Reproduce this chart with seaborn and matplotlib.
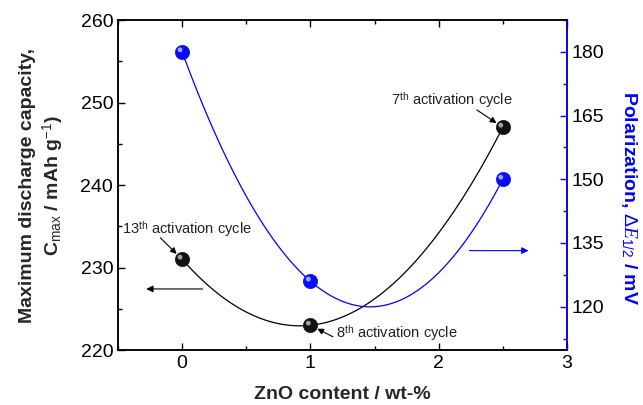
import matplotlib
matplotlib.use("Agg")
import matplotlib.pyplot as plt
import matplotlib.transforms as mtransforms
from matplotlib.ticker import MultipleLocator
import seaborn as sns
import pandas as pd

# ---- data ----
zno_content = [0, 1, 2.5]
capacity = [231, 223, 247]          # mAh/g (left axis)
polarization = [180, 126, 150]      # mV (right axis)
cycle_labels = ["13", "8", "7"]

sns.set_style("ticks")
plt.rcParams["font.family"] = ["Liberation Sans", "DejaVu Sans"]
plt.rcParams["mathtext.fontset"] = "custom"
plt.rcParams["mathtext.rm"] = "Liberation Sans"
plt.rcParams["mathtext.it"] = "Liberation Serif:italic"
plt.rcParams["mathtext.bf"] = "Liberation Sans:bold"

df = pd.DataFrame({"x": zno_content, "cap": capacity, "pol": polarization})

fig = plt.figure(figsize=(6.43, 4.05), dpi=100)
ax = fig.add_axes([0.1835, 0.1358, 0.6983, 0.8148])
ax2 = ax.twinx()

# fitted curves (quadratic)
sns.regplot(data=df, x="x", y="cap", order=2, ci=None, scatter=False, ax=ax,
            line_kws=dict(color="black", lw=0.9))
sns.regplot(data=df, x="x", y="pol", order=2, ci=None, scatter=False, ax=ax2,
            line_kws=dict(color="#0000ff", lw=0.9))

# sphere-like markers
def spheres(axis, ycol, color, hl):
    sns.scatterplot(data=df, x="x", y=ycol, ax=axis, s=105, color=color,
                    edgecolor=color, linewidth=0.5, zorder=5, legend=False)
    off = mtransforms.offset_copy(axis.transData, fig=fig, x=-1.5, y=1.5, units="points")
    axis.scatter(df["x"], df[ycol], s=12, color=hl, edgecolor="none",
                 transform=off, zorder=6, alpha=0.85)

spheres(ax, "cap", "#111111", "#bbbbbb")
spheres(ax2, "pol", "#0a0aff", "#b8c4ff")

# limits / ticks
ax.set_xlim(-0.5, 3)
ax.set_ylim(220, 260)
ax2.set_ylim(109.8, 187.5)
ax.xaxis.set_major_locator(MultipleLocator(1))
ax.xaxis.set_minor_locator(MultipleLocator(0.5))
ax.yaxis.set_major_locator(MultipleLocator(10))
ax.yaxis.set_minor_locator(MultipleLocator(5))
ax2.yaxis.set_major_locator(MultipleLocator(15))
ax2.yaxis.set_minor_locator(MultipleLocator(7.5))

ax.tick_params(axis="both", which="both", direction="in", labelsize=14,
               top=True, right=False, width=1, colors="black")
ax.tick_params(which="major", length=5)
ax.tick_params(which="minor", length=3)
ax2.tick_params(axis="y", which="both", direction="in", labelsize=14,
                color="#0000ff", labelcolor="black", width=1)
ax2.tick_params(which="major", length=5)
ax2.tick_params(which="minor", length=3)

for a in (ax, ax2):
    for sp in a.spines.values():
        sp.set_linewidth(1.1)
        sp.set_color("black")
ax2.spines["right"].set_color("#0000ff")

ax.set_xlabel("ZnO content / wt-%", fontsize=14, fontweight="bold", labelpad=10)
ax.set_ylabel("Maximum discharge capacity,\n" + r"C$_{\mathrm{max}}$ / mAh g$^{\mathrm{-1}}$)",
              fontsize=14, fontweight="bold", labelpad=10, linespacing=1.3)
ax2.set_ylabel(r"Polarization, $\Delta E_{\mathrm{1/2}}$ / mV", fontsize=14,
               fontweight="bold", color="#0000ff", rotation=270, va="center")
ax2.yaxis.set_label_coords(1.138, 0.46)

# annotations: text + arrow from text toward the point
txt_kw = dict(fontsize=10.5, color="#222222", ha="center", va="center")
arr_kw = dict(arrowstyle="-|>", color="black", lw=0.8, mutation_scale=9,
              shrinkA=0, shrinkB=5.5)
label_pos = [(0.04, 234.6), (1.67, 221.9), (2.10, 250.2)]
arrow_start = [(-0.17, 233.6), (1.176, 221.6), (2.297, 249.1)]
for i in range(3):
    ax.text(*label_pos[i], f"${cycle_labels[i]}^{{\\mathrm{{th}}}}$ activation cycle", **txt_kw)
    ax.annotate("", xy=(zno_content[i], capacity[i]), xytext=arrow_start[i],
                arrowprops=arr_kw)

# axis-indicator arrows
ax.annotate("", xy=(-0.28, 227.4), xytext=(0.16, 227.4),
            arrowprops=dict(arrowstyle="-|>", color="black", lw=0.8,
                            mutation_scale=10, shrinkA=0, shrinkB=0))
ax2.annotate("", xy=(2.70, 133.2), xytext=(2.24, 133.2),
             arrowprops=dict(arrowstyle="-|>", color="#0000ff", lw=0.8,
                             mutation_scale=10, shrinkA=0, shrinkB=0))

fig.savefig("out.png", dpi=100)
